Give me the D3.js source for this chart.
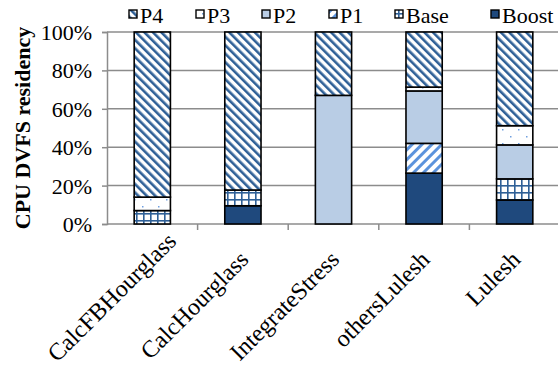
<!DOCTYPE html>
<html lang="en">
<head>
<meta charset="UTF-8">
<title>CPU DVFS residency</title>
<style>
  body, html { margin: 0; padding: 0; background: #fff; }
</style>
</head>
<body>
<svg id="chart" width="558" height="367"></svg>
<script src="https://cdnjs.cloudflare.com/ajax/libs/d3/7.8.5/d3.min.js"></script>
<script>
// data (percent of time in each state)
const categories = ["CalcFBHourglass", "CalcHourglass", "IntegrateStress", "othersLulesh", "Lulesh"];
const states = ["Boost", "Base", "P1", "P2", "P3", "P4"];   // bottom to top
const legendOrder = ["P4", "P3", "P2", "P1", "Base", "Boost"];
const Boost = [0, 9.5, 0, 26.5, 12.5];
const Base  = [7, 8.2, 0, 0, 11];
const P1    = [0, 0, 0, 15.5, 0];
const P2    = [0, 0, 67, 27.3, 17.7];
const P3    = [7, 0, 0, 2, 10];
const P4    = [86, 82.3, 33, 28.7, 48.8];
const yTicks = [0, 20, 40, 60, 80, 100];

const FONT = '"Liberation Serif", "Times New Roman", serif';

const series = { Boost, Base, P1, P2, P3, P4 };
const rows = categories.map((c, i) => {
    const r = { name: c };
    states.forEach(s => r[s] = series[s][i]);
    return r;
});

const svg = d3.select("#chart");
const margin = { left: 107, right: 0, top: 32, bottom: 143 };
const W = 558, H = 367;

const x = d3.scaleBand().domain(categories).range([margin.left, 560]).paddingInner(0.6).paddingOuter(0.3);
const y = d3.scaleLinear().domain([0, 100]).range([H - margin.bottom, margin.top]);

// patterns
const defs = svg.append("defs");
function stripes(id, color, size, thick, angle) {
    const p = defs.append("pattern").attr("id", id).attr("patternUnits", "userSpaceOnUse")
        .attr("width", size).attr("height", size).attr("patternTransform", `rotate(${angle})`);
    p.append("rect").attr("width", size).attr("height", size).attr("fill", "#fff");
    p.append("rect").attr("width", thick).attr("height", size).attr("fill", color);
}
stripes("pP4", "#2f6097", 6, 2.6, -45);
stripes("pP1", "#5c93dc", 7, 3, 45);

const grid = defs.append("pattern").attr("id", "pBase").attr("patternUnits", "userSpaceOnUse")
    .attr("width", 7).attr("height", 7);
grid.append("rect").attr("width", 7).attr("height", 7).attr("fill", "#fff");
grid.append("rect").attr("x", 3).attr("width", 1.6).attr("height", 7).attr("fill", "#2f6097");
grid.append("rect").attr("y", 3).attr("width", 7).attr("height", 1.6).attr("fill", "#2f6097");

const dots = defs.append("pattern").attr("id", "pP3").attr("patternUnits", "userSpaceOnUse")
    .attr("width", 16).attr("height", 14);
dots.append("rect").attr("width", 16).attr("height", 14).attr("fill", "#fff");
dots.append("rect").attr("x", 6).attr("y", 3).attr("width", 1.5).attr("height", 1.5).attr("fill", "#6f9fe0");
dots.append("rect").attr("x", 14).attr("y", 10).attr("width", 1.5).attr("height", 1.5).attr("fill", "#6f9fe0");

const fills = {
    P4: "url(#pP4)", P3: "url(#pP3)", P2: "#b9cde5",
    P1: "url(#pP1)", Base: "url(#pBase)", Boost: "#1f497d"
};

// gridlines
svg.append("g").selectAll("line").data(yTicks).join("line")
    .attr("x1", margin.left).attr("x2", W)
    .attr("y1", d => y(d)).attr("y2", d => y(d))
    .attr("stroke", "#8c8c8c").attr("stroke-width", 1.5);

// y axis
const yAxis = svg.append("g").attr("transform", `translate(${margin.left},0)`)
    .call(d3.axisLeft(y).tickValues(yTicks).tickFormat(d => d + "%").tickSize(5).tickPadding(10));
yAxis.select(".domain").attr("stroke", "#8c8c8c").attr("stroke-width", 1.5);
yAxis.selectAll(".tick line").attr("stroke", "#8c8c8c").attr("stroke-width", 1.5);
yAxis.selectAll("text").attr("fill", "#000").attr("dy", "0.34em")
    .style("font-family", FONT).style("font-size", "22px");

// x axis ticks at category boundaries
const step = x.step();
const bounds = d3.range(categories.length + 1).map(i => margin.left + i * step);
svg.append("g").selectAll("line").data(bounds.slice(1)).join("line")
    .attr("x1", d => d).attr("x2", d => d)
    .attr("y1", y(0)).attr("y2", y(0) + 6)
    .attr("stroke", "#8c8c8c").attr("stroke-width", 1.5);

// stacked bars
const stack = d3.stack().keys(states)(rows);
svg.append("g").selectAll("g").data(stack).join("g")
    .attr("fill", d => fills[d.key])
    .selectAll("rect").data(d => d.filter(p => p[1] - p[0] > 0)).join("rect")
    .attr("x", d => x(d.data.name))
    .attr("width", x.bandwidth())
    .attr("y", d => y(d[1]))
    .attr("height", d => y(d[0]) - y(d[1]))
    .attr("stroke", "#000").attr("stroke-width", 1.6);

// x labels, rotated; a label that would run off the bottom slides up along its own direction
const xl = svg.append("g").selectAll("text").data(categories).join("text")
    .attr("text-anchor", "end")
    .style("font-family", FONT).style("font-size", "24px")
    .text(d => d);
xl.each(function (d) {
    const len = this.getComputedTextLength();
    const ex = x(d) + x.bandwidth() / 2 + 7, ey = y(0) + 37;
    const bottom = ey + len * Math.SQRT1_2;
    const shift = Math.max(0, bottom - (H - 4)) * Math.SQRT2;
    const sx = ex + shift * Math.SQRT1_2, sy = ey - shift * Math.SQRT1_2;
    d3.select(this).attr("transform", `translate(${sx},${sy}) rotate(-45)`);
});

// y title
svg.append("text")
    .attr("transform", `translate(30,${(y(0) + y(100)) / 2}) rotate(-90)`)
    .attr("text-anchor", "middle")
    .style("font-family", FONT).style("font-size", "22px").style("font-weight", "bold")
    .text("CPU DVFS residency");

// legend
const legendX = [129, 196, 262, 329, 395, 491];
const lg = svg.append("g").selectAll("g").data(legendOrder).join("g")
    .attr("transform", (d, i) => `translate(${legendX[i]},10)`);
lg.append("rect").attr("width", 8).attr("height", 8)
    .attr("fill", d => fills[d]).attr("stroke", "#000").attr("stroke-width", 1.4);
lg.append("text").attr("x", 11).attr("y", 13)
    .style("font-family", FONT).style("font-size", "22px")
    .text(d => d);
</script>
</body>
</html>
